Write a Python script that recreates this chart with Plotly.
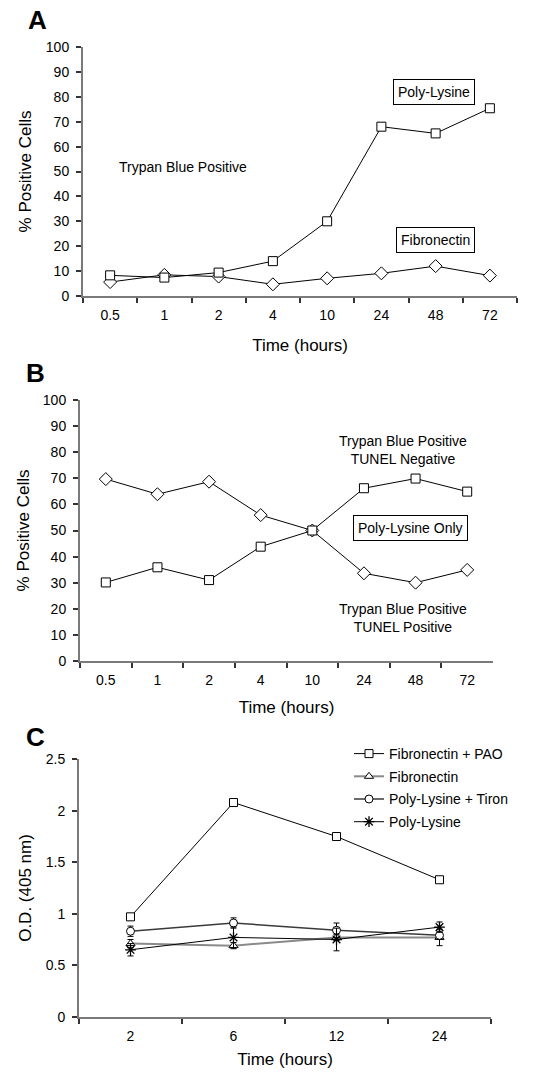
import plotly.graph_objects as go

# ---- data ----
times_ab = ["0.5", "1", "2", "4", "10", "24", "48", "72"]
a_polylysine = [8.3, 7.4, 9.4, 14, 30, 68, 65.3, 75.4]
a_fibronectin = [5.6, 8.5, 7.8, 4.7, 7.1, 9.1, 12, 8.2]

b_tunel_neg = [30.1, 35.9, 31, 43.8, 50, 66.2, 69.9, 64.9]
b_tunel_pos = [69.7, 63.9, 68.7, 55.9, 50, 33.6, 30, 34.9]

times_c = ["2", "6", "12", "24"]
c_fn_pao = [0.97, 2.08, 1.75, 1.33]
c_fn = [0.71, 0.69, 0.77, 0.77]
c_fn_err = [0.04, 0.03, 0.03, 0.08]
c_pl_tiron = [0.83, 0.91, 0.84, 0.79]
c_pl_tiron_err = [0.05, 0.05, 0.07, 0.04]
c_pl = [0.65, 0.77, 0.75, 0.87]
c_pl_err = [0.06, 0.10, 0.11, 0.05]

FONT = "Liberation Sans, Arial, sans-serif"
W, H = 548, 1074

fig = go.Figure()

def mk(sym, size=9):
    return dict(symbol=sym, size=size, color="white", line=dict(color="black", width=1))

# Panel A
fig.add_trace(go.Scatter(x=times_ab, y=a_fibronectin, mode="lines+markers", xaxis="x", yaxis="y",
                         line=dict(color="black", width=1), marker=mk("diamond", 10), showlegend=False, cliponaxis=False))
fig.add_trace(go.Scatter(x=times_ab, y=a_polylysine, mode="lines+markers", xaxis="x", yaxis="y",
                         line=dict(color="black", width=1), marker=mk("square", 9), showlegend=False, cliponaxis=False))
# Panel B
fig.add_trace(go.Scatter(x=times_ab, y=b_tunel_pos, mode="lines+markers", xaxis="x2", yaxis="y2",
                         line=dict(color="black", width=1), marker=mk("diamond", 10), showlegend=False, cliponaxis=False))
fig.add_trace(go.Scatter(x=times_ab, y=b_tunel_neg, mode="lines+markers", xaxis="x2", yaxis="y2",
                         line=dict(color="black", width=1), marker=mk("square", 9), showlegend=False, cliponaxis=False))
# Panel C
eb = lambda arr: dict(type="data", array=arr, visible=True, color="black", thickness=1, width=3)
fig.add_trace(go.Scatter(x=times_c, y=c_fn_pao, mode="lines+markers", xaxis="x3", yaxis="y3", name="Fibronectin + PAO",
                         legendgroup="g1",
                         line=dict(color="black", width=1), marker=mk("square", 8), cliponaxis=False))
fig.add_trace(go.Scatter(x=times_c, y=c_fn, mode="lines+markers", xaxis="x3", yaxis="y3", name="Fibronectin",
                         legendgroup="g2", error_y=eb(c_fn_err),
                         line=dict(color="#8a8a8a", width=2), marker=mk("triangle-up", 8), cliponaxis=False))
fig.add_trace(go.Scatter(x=times_c, y=c_pl_tiron, mode="lines+markers", xaxis="x3", yaxis="y3", name="Poly-Lysine + Tiron",
                         legendgroup="g3", error_y=eb(c_pl_tiron_err),
                         line=dict(color="#3a3a3a", width=1.5), marker=mk("circle", 8), cliponaxis=False))
fig.add_trace(go.Scatter(x=times_c, y=c_pl, mode="lines+markers", xaxis="x3", yaxis="y3", name="Poly-Lysine",
                         legendgroup="g4", error_y=eb(c_pl_err),
                         line=dict(color="black", width=1),
                         marker=dict(symbol="asterisk-open", size=9, color="black", line=dict(color="black", width=1.3)),
                         cliponaxis=False))

def px_x(p):
    return p / W

def px_y(p):
    return 1 - p / H

tickfont = dict(family=FONT, size=14, color="black")
titlefont = dict(family=FONT, size=17, color="black")

def xax(dom, cats, anchor, standoff):
    return dict(domain=dom, type="category", categoryorder="array", categoryarray=cats,
                range=[-0.5, len(cats) - 0.5], anchor=anchor, automargin=False,
                showline=True, linecolor="#7a7a7a", linewidth=2, ticks="outside", tickson="boundaries",
                ticklen=5, tickwidth=1.5, tickcolor="#333333", showgrid=False, zeroline=False,
                ticklabelstandoff=5,
                tickfont=tickfont, title=dict(text="Time (hours)", font=titlefont, standoff=standoff))

def yax(dom, rng, dtick, title, anchor, standoff):
    return dict(domain=dom, range=rng, dtick=dtick, anchor=anchor, automargin=False,
                showline=True, linecolor="#7a7a7a", linewidth=2, ticks="outside", ticklen=5,
                tickwidth=1.5, tickcolor="#333333", showgrid=False, zeroline=False,
                ticklabelstandoff=4,
                tickfont=tickfont, title=dict(text=title, font=titlefont, standoff=standoff))

layout = dict(
    width=W, height=H, autosize=False,
    margin=dict(l=0, r=0, t=0, b=0, pad=0, autoexpand=False),
    paper_bgcolor="white", plot_bgcolor="white",
    font=dict(family=FONT, color="black"),
    xaxis=xax([px_x(83), px_x(517)], times_ab, "y", 17),
    yaxis=yax([px_y(296), px_y(47)], [0, 100], 10, "% Positive Cells", "x", 10),
    xaxis2=xax([px_x(80), px_x(493)], times_ab, "y2", 14),
    yaxis2=yax([px_y(661), px_y(400)], [0, 100], 10, "% Positive Cells", "x2", 9),
    xaxis3=xax([px_x(79), px_x(491)], times_c, "y3", 11),
    yaxis3=yax([px_y(1016.7), px_y(759.3)], [0, 2.5], 0.5, "O.D. (405 nm)", "x3", 10),
    legend=dict(x=px_x(349), y=px_y(738), xanchor="left", yanchor="top",
                font=dict(family=FONT, size=14, color="black"), bgcolor="rgba(0,0,0,0)",
                tracegroupgap=1.5, itemwidth=30),
)
fig.update_layout(**layout)

annfont = dict(family=FONT, size=14, color="black")
letter = dict(family=FONT, size=26, color="black")
anns = [
    dict(text="<b>A</b>", x=px_x(37), y=px_y(20), xref="paper", yref="paper", showarrow=False,
         xanchor="center", yanchor="middle", font=letter),
    dict(text="<b>B</b>", x=px_x(35), y=px_y(373), xref="paper", yref="paper", showarrow=False,
         xanchor="center", yanchor="middle", font=letter),
    dict(text="<b>C</b>", x=px_x(35), y=px_y(737), xref="paper", yref="paper", showarrow=False,
         xanchor="center", yanchor="middle", font=letter),
    dict(text="Trypan Blue Positive", xref="x", yref="y", x=1.34, y=52, showarrow=False, font=annfont),
    dict(text="Poly-Lysine", xref="x", yref="y", x=5.97, y=82, showarrow=False, font=annfont,
         bordercolor="black", borderwidth=1, borderpad=4, bgcolor="white"),
    dict(text="Fibronectin", xref="x", yref="y", x=6, y=22.3, showarrow=False, font=annfont,
         bordercolor="black", borderwidth=1, borderpad=4, bgcolor="white"),
    dict(text="Trypan Blue Positive<br>TUNEL Negative", xref="x2", yref="y2", x=5.76, y=80.8,
         showarrow=False, font=annfont),
    dict(text="Poly-Lysine Only", xref="x2", yref="y2", x=5.91, y=51, showarrow=False, font=annfont,
         bordercolor="black", borderwidth=1, borderpad=4, bgcolor="white"),
    dict(text="Trypan Blue Positive<br>TUNEL Positive", xref="x2", yref="y2", x=5.76, y=16.6,
         showarrow=False, font=annfont),
]
fig.update_layout(annotations=anns)

fig.write_html("out.html", config={"displayModeBar": False},
               post_script="document.body.style.margin='0';document.body.style.overflow='hidden';")
